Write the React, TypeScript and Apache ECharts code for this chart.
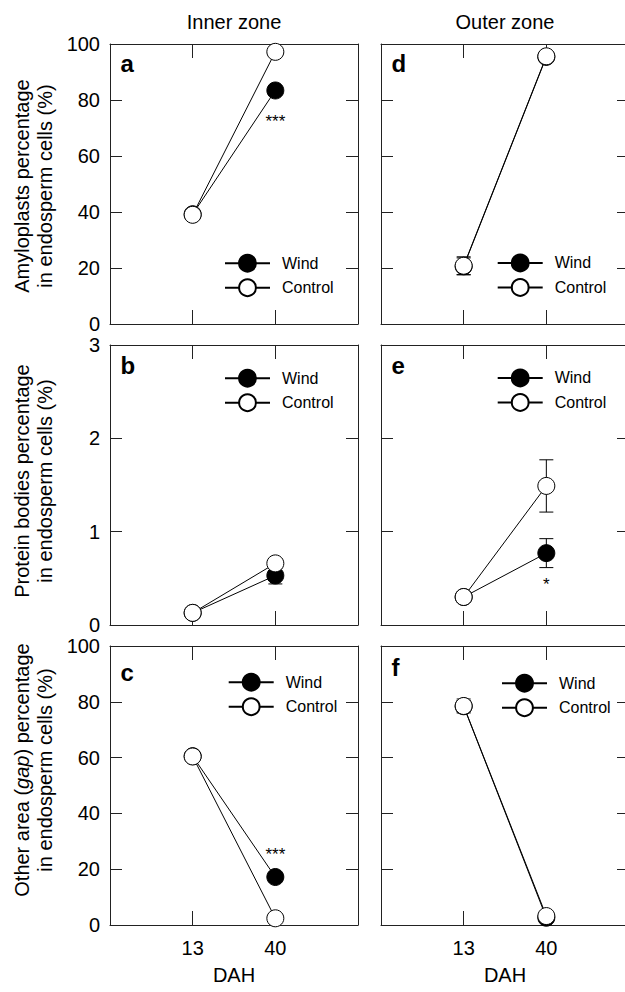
import React, { useEffect, useRef } from 'react';
import * as echarts from 'echarts';

// ---------- data ----------
const DAH = [13, 40];
const xTickLabels = ['13', '40'];
const legendNames = ['Wind', 'Control'];
const zoneTitles = ['Inner zone', 'Outer zone'];
const xAxisName = 'DAH';

// a — inner zone, amyloplasts (%)
const windA = [39.2, 83.4];
const controlA = [39.0, 97.2];
const windAErr = [1.0, 1.5];
const controlAErr = [1.0, 1.0];
// b — inner zone, protein bodies (%)
const windB = [0.13, 0.53];
const controlB = [0.13, 0.66];
const windBErr = [0.02, 0.09];
const controlBErr = [0.02, 0.05];
// c — inner zone, other area (gap) (%)
const windC = [60.5, 17.2];
const controlC = [60.4, 2.4];
const windCErr = [1.0, 1.5];
const controlCErr = [1.0, 0.5];
// d — outer zone, amyloplasts (%)
const windD = [20.6, 95.4];
const controlD = [20.8, 95.6];
const windDErr = [3.0, 1.0];
const controlDErr = [3.2, 1.0];
// e — outer zone, protein bodies (%)
const windE = [0.3, 0.77];
const controlE = [0.3, 1.49];
const windEErr = [0.03, 0.155];
const controlEErr = [0.03, 0.28];
// f — outer zone, other area (gap) (%)
const windF = [78.4, 2.6];
const controlF = [78.5, 3.2];
const windFErr = [2.0, 0.5];
const controlFErr = [2.5, 0.5];

const yTitles = [
  'Amyloplasts percentage\nin endosperm cells (%)',
  'Protein bodies percentage\nin endosperm cells (%)',
  'Other area ({i|gap}) percentage\nin endosperm cells (%)',
];

// ---------- layout ----------
const FONT = 'Liberation Sans, Arial, Helvetica, sans-serif';
const COL_LEFT = [110, 381];
const ROW_TOP = [44, 345, 646];
const ROW_H = [280, 280, 279];
const GRID_W = 248;
const X_MIN = -14;
const X_MAX = 67;
const Y_RANGE = [
  { max: 100, interval: 20 },
  { max: 3, interval: 1 },
  { max: 100, interval: 20 },
];
const BOX = '#222';

type Panel = {
  letter: string;
  col: number;
  row: number;
  wind: number[];
  control: number[];
  windErr: number[];
  controlErr: number[];
  sig?: string;
  sigOffset?: number;
  legend: [number, number];
  letterPos: [number, number];
};

const PANELS: Panel[] = [
  { letter: 'a', col: 0, row: 0, wind: windA, control: controlA, windErr: windAErr, controlErr: controlAErr, sig: '***', sigOffset: 31, legend: [224, 253.8], letterPos: [120.5, 63] },
  { letter: 'b', col: 0, row: 1, wind: windB, control: controlB, windErr: windBErr, controlErr: controlBErr, legend: [224, 368.8], letterPos: [120.5, 365.5] },
  { letter: 'c', col: 0, row: 2, wind: windC, control: controlC, windErr: windCErr, controlErr: controlCErr, sig: '***', sigOffset: -23, legend: [227.7, 672.8], letterPos: [120.5, 672.4] },
  { letter: 'd', col: 1, row: 0, wind: windD, control: controlD, windErr: windDErr, controlErr: controlDErr, legend: [496.7, 253.5], letterPos: [391.5, 63.4] },
  { letter: 'e', col: 1, row: 1, wind: windE, control: controlE, windErr: windEErr, controlErr: controlEErr, sig: '*', sigOffset: 31.4, legend: [496.7, 368.5], letterPos: [391.5, 365] },
  { letter: 'f', col: 1, row: 2, wind: windF, control: controlF, windErr: windFErr, controlErr: controlFErr, legend: [501, 673.8], letterPos: [391.5, 667.4] },
];

function errRender(params: any, api: any) {
  const x = api.value(0);
  const y = api.value(1);
  const e = api.value(2);
  const top = api.coord([x, y + e]);
  const bot = api.coord([x, y - e]);
  const hw = 7;
  const style = { stroke: '#000', lineWidth: 1, fill: 'none' };
  return {
    type: 'group',
    children: [
      { type: 'line', shape: { x1: top[0], y1: top[1], x2: bot[0], y2: bot[1] }, style },
      { type: 'line', shape: { x1: top[0] - hw, y1: top[1], x2: top[0] + hw, y2: top[1] }, style },
      { type: 'line', shape: { x1: bot[0] - hw, y1: bot[1], x2: bot[0] + hw, y2: bot[1] }, style },
    ],
  };
}

function buildOption() {
  const grid: any[] = [];
  const xAxis: any[] = [];
  const yAxis: any[] = [];
  const series: any[] = [];
  const legend: any[] = [];
  const graphic: any[] = [];

  PANELS.forEach((p, i) => {
    grid.push({
      left: COL_LEFT[p.col],
      top: ROW_TOP[p.row],
      width: GRID_W,
      height: ROW_H[p.row],
      containLabel: false,
      outerBoundsMode: 'none',
    });
    const lineCommon = { show: true, onZero: false, lineStyle: { color: BOX, width: 1 } };
    const isBottom = p.row === 2;
    const xBase = {
      gridIndex: i,
      type: 'value',
      min: X_MIN,
      max: X_MAX,
      axisLine: lineCommon,
      splitLine: { show: false },
      axisTick: { show: true, inside: true, length: 14, customValues: DAH, lineStyle: { color: BOX } },
    };
    xAxis.push({
      ...xBase,
      position: 'bottom',
      name: isBottom ? xAxisName : '',
      nameLocation: 'middle',
      nameGap: 40,
      nameTextStyle: { fontSize: 20, color: '#000', fontFamily: FONT },
      axisLabel: {
        show: isBottom,
        customValues: DAH,
        formatter: (v: number) => xTickLabels[DAH.indexOf(v)] ?? '',
        margin: 13,
        fontSize: 20,
        color: '#000',
        fontFamily: FONT,
      },
    });
    xAxis.push({ ...xBase, position: 'top', axisLabel: { show: false } });

    const yr = Y_RANGE[p.row];
    const yBase = {
      gridIndex: i,
      type: 'value',
      min: 0,
      max: yr.max,
      interval: yr.interval,
      axisLine: lineCommon,
      splitLine: { show: false },
      axisTick: { show: true, inside: true, length: 12, lineStyle: { color: BOX } },
    };
    yAxis.push({
      ...yBase,
      position: 'left',
      axisLabel: { show: p.col === 0, margin: 10, fontSize: 20, color: '#000', fontFamily: FONT },
    });
    yAxis.push({ ...yBase, position: 'right', axisLabel: { show: false } });

    const windData = DAH.map((d, k) => {
      const item: any = { value: [d, p.wind[k]] };
      if (p.sig && k === 1) {
        item.label = {
          show: true,
          formatter: p.sig,
          position: 'inside',
          offset: [0, p.sigOffset],
          color: '#000',
          fontSize: 17,
          fontFamily: FONT,
        };
      }
      return item;
    });

    series.push({
      type: 'custom',
      name: 'err-wind-' + i,
      xAxisIndex: 2 * i,
      yAxisIndex: 2 * i,
      renderItem: errRender,
      encode: { x: 0, y: 1 },
      data: DAH.map((d, k) => [d, p.wind[k], p.windErr[k]]),
      z: 1,
      silent: true,
    });
    series.push({
      type: 'custom',
      name: 'err-control-' + i,
      xAxisIndex: 2 * i,
      yAxisIndex: 2 * i,
      renderItem: errRender,
      encode: { x: 0, y: 1 },
      data: DAH.map((d, k) => [d, p.control[k], p.controlErr[k]]),
      z: 1,
      silent: true,
    });
    series.push({
      type: 'line',
      name: legendNames[0],
      xAxisIndex: 2 * i,
      yAxisIndex: 2 * i,
      data: windData,
      symbol: 'circle',
      symbolSize: 17,
      showAllSymbol: true,
      lineStyle: { color: '#000', width: 1 },
      itemStyle: { color: '#000', borderColor: '#000', borderWidth: 1 },
      z: 2,
    });
    series.push({
      type: 'line',
      name: legendNames[1],
      xAxisIndex: 2 * i,
      yAxisIndex: 2 * i,
      data: DAH.map((d, k) => [d, p.control[k]]),
      symbol: 'circle',
      symbolSize: 17,
      showAllSymbol: true,
      lineStyle: { color: '#000', width: 1 },
      itemStyle: { color: '#fff', borderColor: '#000', borderWidth: 1 },
      z: 3,
    });

    legend.push({
      data: legendNames,
      orient: 'vertical',
      left: p.legend[0],
      top: p.legend[1],
      padding: 0,
      itemWidth: 45,
      itemHeight: 21,
      itemGap: 5.7,
      selectedMode: false,
      textStyle: { fontSize: 16, color: '#000', fontFamily: FONT, padding: [0, 0, 0, 7] },
    });

    graphic.push({
      type: 'text',
      x: p.letterPos[0],
      y: p.letterPos[1],
      style: {
        text: p.letter,
        fontSize: 24,
        fontWeight: 'bold',
        fontFamily: FONT,
        fill: '#000',
        textAlign: 'left',
        textVerticalAlign: 'middle',
      },
    });
  });

  const yTitleCenters = [186, 481, 770];
  yTitles.forEach((t, r) => {
    graphic.push({
      type: 'text',
      x: 33,
      y: yTitleCenters[r],
      rotation: Math.PI / 2,
      style: {
        text: t,
        fontSize: 20,
        lineHeight: 23,
        fontFamily: FONT,
        fill: '#000',
        textAlign: 'center',
        textVerticalAlign: 'middle',
        rich: { i: { fontStyle: 'italic', fontSize: 20, fontFamily: FONT, lineHeight: 23 } },
      },
    });
  });

  const title = zoneTitles.map((t, c) => ({
    text: t,
    left: COL_LEFT[c] + GRID_W / 2,
    top: 12,
    textAlign: 'center',
    padding: 0,
    textStyle: { fontSize: 20, fontWeight: 'normal', color: '#000', fontFamily: FONT },
  }));

  return {
    animation: false,
    backgroundColor: '#fff',
    textStyle: { fontFamily: FONT },
    title,
    grid,
    xAxis,
    yAxis,
    legend,
    series,
    graphic,
  };
}

export default function App() {
  const ref = useRef<HTMLDivElement>(null);
  useEffect(() => {
    if (!ref.current) return;
    const chart = echarts.init(ref.current, null, { renderer: 'svg' });
    chart.setOption(buildOption() as any);
    return () => chart.dispose();
  }, []);
  return (
    <div
      ref={ref}
      style={{ position: 'absolute', left: 0, top: 0, width: 625, height: 992, background: '#fff' }}
    />
  );
}
